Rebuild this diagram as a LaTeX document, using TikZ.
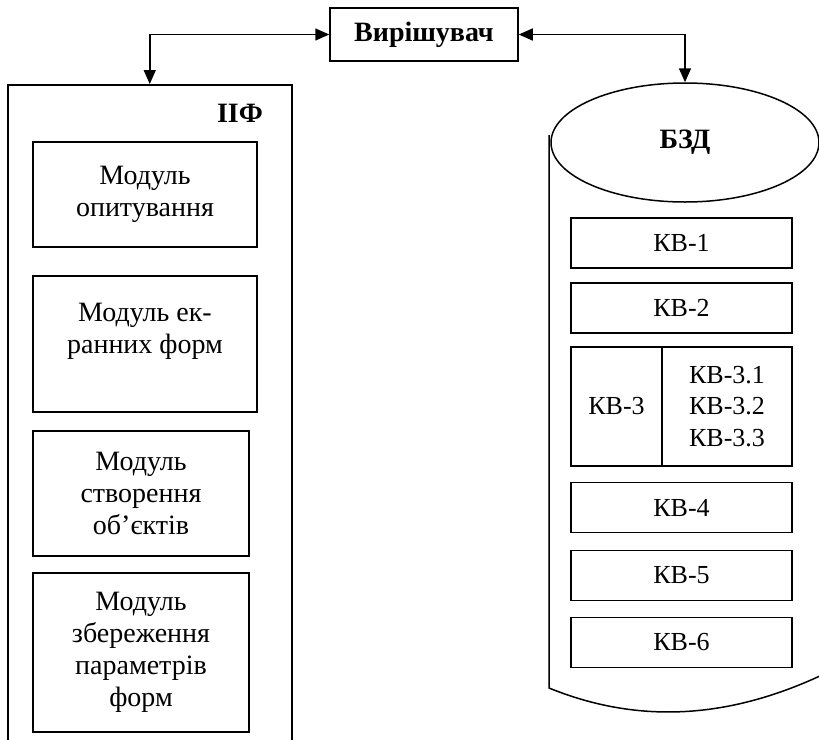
\documentclass[tikz,border=0pt]{standalone}
\usepackage{fontspec}
\setmainfont{Liberation Serif}
\usetikzlibrary{arrows.meta,shapes.geometric,positioning}

\begin{document}
\begin{tikzpicture}[x=1pt, y=-1pt, >={Triangle[length=14pt,width=12pt]},
                box/.style={rectangle, draw=black, line width=1.5pt, align=center, inner sep=0pt,
                font=\fontsize{28}{32}\selectfont},
                bold-text/.style={font=\fontsize{28}{32}\selectfont\bfseries},
                kv/.style={box, minimum width=221pt, minimum height=50pt, font=\fontsize{26}{31.5}\selectfont}]
                \useasboundingbox (0,0) rectangle (819,739);
                \clip (0,0) rectangle (819,739);
                % solver
                \node[box, bold-text, minimum width=188pt, minimum height=53pt] (Resh) at (424,34.5) {Вирішувач};
                % left panel with its modules
                \node[box, minimum width=284pt, minimum height=700pt, anchor=north west] (PF) at (7,84) {};
                \node[bold-text] (PFlbl) at (240,113) {ІІФ};
                \node[box, minimum width=224pt, minimum height=105pt] (M1) at (145,194.5) {Модуль\\опитування};
                \node[box, minimum width=224pt, minimum height=136pt] (M2) at (145,344) {Модуль ек-\\ранних форм\\\mbox{}};
                \node[box, minimum width=216pt, minimum height=125pt] (M3) at (141,493.5) {Модуль\\створення\\об’єктів};
                \node[box, minimum width=216pt, minimum height=159pt] (M4) at (141,652.5) {Модуль\\збереження\\параметрів\\форм};
                % knowledge base drum
                \node[ellipse, draw=black, line width=1.5pt, minimum width=268pt, minimum height=119pt, inner sep=0pt, bold-text] (BZD) at (685,142.5) {БЗД};
                \draw[line width=1.5pt] (549,135) -- (549,688) .. controls (640,725) and (730,718) .. (822,675);
                \node[kv] (KV1) at (681.5,243) {КВ-1};
                \node[kv] (KV2) at (681.5,308) {КВ-2};
                \node[kv, minimum width=91pt, minimum height=119pt] (KV3) at (616.5,406.5) {КВ-3};
                \node[kv, minimum width=130pt, minimum height=119pt] (KV3sub) at (727,406.5) {КВ-3.1\\КВ-3.2\\КВ-3.3};
                \node[kv] (KV4) at (681.5,507.5) {КВ-4};
                \node[kv] (KV5) at (681.5,575.5) {КВ-5};
                \node[kv] (KV6) at (681.5,642.5) {КВ-6};
                % links to the solver
                \draw[<->, line width=1.5pt] (PF.north) |- (Resh.west);
                \draw[<->, line width=1.5pt] (Resh.east) -| (BZD.north);
            \end{tikzpicture}
\end{document}
